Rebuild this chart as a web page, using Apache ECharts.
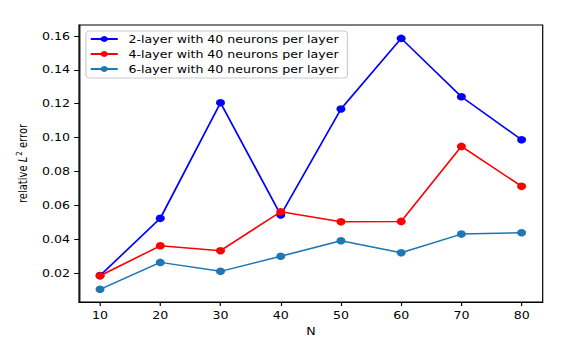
<!DOCTYPE html>
<html><head><meta charset="utf-8">
<script src="https://cdn.jsdelivr.net/npm/echarts@6/dist/echarts.min.js"></script>
<style>html,body{margin:0;padding:0;background:#fff;overflow:hidden}#c{width:489px;height:339px;transform:scaleX(1.20041);transform-origin:0 0}</style>
</head><body><div id="c"></div>
<script>
const nValues = [10, 20, 30, 40, 50, 60, 70, 80];
const layer2 = [0.0185, 0.0523, 0.1206, 0.0543, 0.1169, 0.1586, 0.1241, 0.0987];
const layer4 = [0.0184, 0.0361, 0.0332, 0.0562, 0.0503, 0.0505, 0.0948, 0.0712];
const layer6 = [0.0104, 0.0263, 0.0210, 0.0299, 0.0391, 0.0320, 0.0430, 0.0438];
const xTicks = [10, 20, 30, 40, 50, 60, 70, 80];
const yTicks = [0.02, 0.04, 0.06, 0.08, 0.10, 0.12, 0.14, 0.16];
const names = ['2-layer with 40 neurons per layer', '4-layer with 40 neurons per layer', '6-layer with 40 neurons per layer'];
const colors = ['#0000ff', '#ff0000', '#1f77b4'];

const font = 'DejaVu Sans';
const fs = 10.5;
const chart = echarts.init(document.getElementById('c'), null, {renderer: 'svg'});
const mk = (i, data) => ({
  name: names[i], type: 'line', data: nValues.map((n, k) => [n, data[k]]),
  symbol: 'circle', symbolSize: 7.5, color: colors[i],
  lineStyle: {width: 1.5, color: colors[i]}, itemStyle: {color: colors[i]},
  animation: false, z: 3 + i
});
chart.setOption({
  animation: false,
  textStyle: {fontFamily: font},
  grid: {left: 65.8, right: 36.9, top: 25, bottom: 37, containLabel: false, outerBoundsMode: 'none',
    show: true, borderColor: '#000', borderWidth: 1, backgroundColor: 'transparent'},
  legend: {
    orient: 'vertical', left: 71.6, top: 31, itemGap: 4, itemWidth: 22.5, itemHeight: 7.5,
    padding: [2.5, 7, 3.5, 3], borderColor: '#cccccc', borderWidth: 1, borderRadius: 3,
    backgroundColor: 'rgba(255,255,255,0.8)',
    textStyle: {fontFamily: font, fontSize: fs, color: '#000', padding: [0, 0, 0, 4]},
    data: names
  },
  xAxis: {
    type: 'value', min: 6.5, max: 83.5, name: 'N', nameLocation: 'middle', nameGap: 20,
    nameTextStyle: {fontFamily: font, fontSize: fs, color: '#000'},
    axisLine: {show: true, lineStyle: {color: '#000', width: 1}},
    axisTick: {show: true, customValues: xTicks, length: 4, lineStyle: {color: '#000'}},
    axisLabel: {customValues: xTicks, fontFamily: font, fontSize: fs, color: '#000', margin: 8},
    splitLine: {show: false}
  },
  yAxis: {
    type: 'value', min: 0.0029, max: 0.1665, name: '{a|relative }{i|L}{s|2}{a| error}',
    nameLocation: 'middle', nameGap: 40,
    nameTextStyle: {fontFamily: font, fontSize: 10, color: '#000',
      rich: {a: {fontFamily: font, fontSize: 10, color: '#000'},
             i: {fontFamily: font, fontSize: 10, fontStyle: 'italic', color: '#000'},
             s: {fontFamily: font, fontSize: 7, color: '#000', verticalAlign: 'top', padding: [0, 0, 6, 1]}}},
    axisLine: {show: true, lineStyle: {color: '#000', width: 1}},
    axisTick: {show: true, customValues: yTicks, length: 4, lineStyle: {color: '#000'}},
    axisLabel: {customValues: yTicks, fontFamily: font, fontSize: fs, color: '#000', margin: 7.5,
      formatter: v => v.toFixed(2)},
    splitLine: {show: false}
  },
  series: [mk(0, layer2), mk(1, layer4), mk(2, layer6)]
});
</script></body></html>
